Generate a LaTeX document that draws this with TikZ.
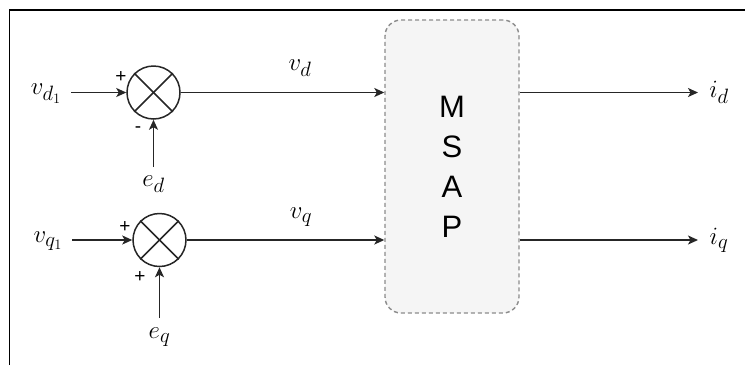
\documentclass[tikz,border=0pt]{standalone}
\usepackage{fontspec}
\setmainfont{Liberation Sans}
\usetikzlibrary{arrows.meta}
\definecolor{boxfill}{HTML}{F5F5F5}
\definecolor{boxline}{HTML}{8C8C8C}
\begin{document}
\begin{tikzpicture}[x=1pt,y=-1pt,
  wire/.style={line width=1.5pt,draw=black!85},
  arr/.style={wire,-{Stealth[length=10pt,width=9pt,inset=2.5pt]}},
  sumnode/.style={circle,draw=black!85,line width=1.5pt,minimum size=53pt,inner sep=0pt},
  mlabel/.style={inner sep=0pt,font=\fontsize{29}{32}\selectfont},
  sign/.style={inner sep=0pt,font=\fontsize{19}{20}\selectfont},
  plant/.style={draw=boxline,dashed,dash pattern=on 4pt off 3pt,line width=1.4pt,fill=boxfill,
    rounded corners=16pt,minimum width=134pt,minimum height=293pt,inner sep=0pt,
    align=center,font=\fontsize{31}{40}\selectfont}]
  \useasboundingbox (0,0) rectangle (745,365);

  % outer frame edges
  \draw[line width=1.5pt] (9.5,365) -- (9.5,10) -- (745,10);

  % summing junctions
  \node[sumnode] (s1) at (153.5,92.5) {};
  \node[sumnode] (s2) at (159.5,240) {};
  \foreach \s in {s1,s2}{
    \draw[wire] (\s.north west) -- (\s.south east);
    \draw[wire] (\s.north east) -- (\s.south west);
  }

  % machine block
  \node[plant] (msap) at (452,166.5) {M\\S\\A\\P};

  % inputs
  \node[mlabel] (vd1) at (46,94) {$v_{d_1}$};
  \node[mlabel] (vq1) at (48,241) {$v_{q_1}$};
  \node[mlabel] (ed) at (153.5,184) {$e_d$};
  \node[mlabel] (eq) at (159.5,337) {$e_q$};
  \coordinate (vd1e) at (71,92.5);
  \coordinate (vq1e) at (72,240);
  \coordinate (edn) at (153.5,167);
  \coordinate (eqn) at (159.5,318);

  \draw[arr] (vd1e) -- (s1.west);
  \draw[arr] (edn) -- (s1.south);
  \draw[arr] (vq1e) -- (s2.west);
  \draw[arr] (eqn) -- (s2.south);

  % signs
  \node[sign] (p1) at (121,77) {+};
  \node[sign] (m1) at (138,130) {-};
  \node[sign] (p2) at (125,227) {+};
  \node[sign] (p3) at (140,277) {+};

  % into the block
  \draw[arr] (s1.east) -- (msap.west |- s1.east);
  \draw[arr] (s2.east) -- (msap.west |- s2.east);
  \node[mlabel] (vd) at (300,68) {$v_d$};
  \node[mlabel] (vq) at (301,217) {$v_q$};

  % outputs
  \coordinate (ido) at (698,92.5);
  \coordinate (iqo) at (698,240);
  \draw[arr] (msap.east |- ido) -- (ido);
  \draw[arr] (msap.east |- iqo) -- (iqo);
  \node[mlabel] (id) at (719,92) {$i_d$};
  \node[mlabel] (iq) at (719,240) {$i_q$};
\end{tikzpicture}
\end{document}
